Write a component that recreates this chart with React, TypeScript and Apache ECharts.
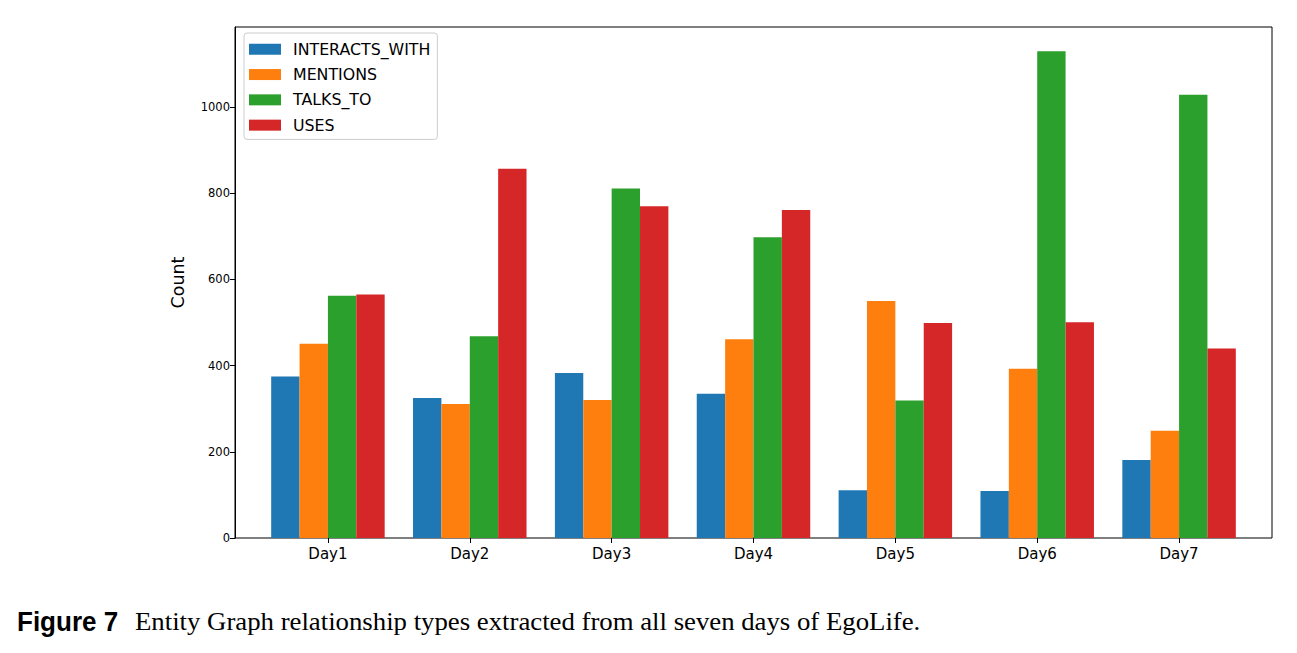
import React, { useEffect, useRef } from "react";
import * as echarts from "echarts";

const categories = ["Day1", "Day2", "Day3", "Day4", "Day5", "Day6", "Day7"];
const seriesNames = ["INTERACTS_WITH", "MENTIONS", "TALKS_TO", "USES"];
const interactsWith = [375, 325, 383, 335, 111, 109, 181];
const mentions = [451, 311, 320, 461, 550, 393, 249];
const talksTo = [562, 468, 811, 698, 319, 1130, 1029];
const uses = [565, 857, 770, 761, 499, 501, 440];
const yTicks = [0, 200, 400, 600, 800, 1000];
const colors = ["#1f77b4", "#ff7f0e", "#2ca02c", "#d62728"];
const yMax = 1186;

export default function App() {
  const ref = useRef<HTMLDivElement>(null);
  useEffect(() => {
    document.body.style.margin = "0";
    const chart = echarts.init(ref.current!, null, { renderer: "svg" });
    const values = [interactsWith, mentions, talksTo, uses];
    const font = "DejaVu Sans";
    chart.setOption({
      animation: false,
      backgroundColor: "#fff",
      legend: {
        orient: "vertical",
        left: 244,
        top: 33,
        padding: [7, 7, 5, 5],
        itemWidth: 32,
        itemHeight: 11,
        itemGap: 6.8,
        icon: "rect",
        backgroundColor: "#fff",
        borderColor: "#cccccc",
        borderWidth: 1,
        borderRadius: 3,
        textStyle: {
          fontFamily: font,
          fontSize: 15.8,
          color: "#000",
          lineHeight: 18.5,
          padding: [0, 0, 0, 7],
        },
        data: seriesNames,
      },
      grid: [
        { left: 257, top: 27, width: 993, height: 511, show: false },
        { left: 235, top: 27, width: 1037, height: 511, show: true, borderColor: "#000", borderWidth: 1, backgroundColor: "transparent" },
      ],
      xAxis: [
        {
          type: "category",
          gridIndex: 0,
          data: categories,
          axisLine: { show: false },
          axisTick: { show: true, alignWithLabel: true, length: 5, lineStyle: { color: "#000" } },
          axisLabel: { color: "#000", fontFamily: font, fontSize: 15, margin: 8 },
        },
        { type: "value", gridIndex: 1, show: false, min: 0, max: 1 },
      ],
      yAxis: [
        { type: "value", gridIndex: 0, show: false, min: 0, max: yMax },
        {
          type: "value",
          gridIndex: 1,
          min: 0,
          max: yMax,
          interval: 200,
          name: "Count",
          nameLocation: "middle",
          nameGap: 48,
          nameTextStyle: { fontFamily: font, fontSize: 17.5, color: "#000" },
          axisLine: { show: true, lineStyle: { color: "#000" } },
          axisTick: { show: true, length: 5, lineStyle: { color: "#000" }, customValues: yTicks },
          axisLabel: {
            color: "#000",
            fontFamily: font,
            fontSize: 11.5,
            margin: 5,
            customValues: yTicks,
            formatter: (v: number) => String(v),
          },
          splitLine: { show: false },
        },
      ],
      series: seriesNames.map((name, i) => ({
        name,
        type: "bar",
        xAxisIndex: 0,
        yAxisIndex: 0,
        data: values[i],
        barGap: "0%",
        barCategoryGap: "20%",
        itemStyle: { color: colors[i] },
      })),
      graphic: [
        {
          type: "text",
          x: 17,
          y: 622,
          scaleX: 0.93,
          style: {
            text: "Figure 7",
            font: "bold 28px 'Liberation Sans'",
            fill: "#000",
            verticalAlign: "middle",
          },
        },
        {
          type: "text",
          x: 135,
          y: 622,
          scaleX: 1.05,
          style: {
            text: "Entity Graph relationship types extracted from all seven days of EgoLife.",
            font: "25.5px 'Liberation Serif'",
            fill: "#000",
            verticalAlign: "middle",
          },
        },
      ],
    });
    return () => chart.dispose();
  }, []);
  return <div ref={ref} style={{ width: 1297, height: 653 }} />;
}
